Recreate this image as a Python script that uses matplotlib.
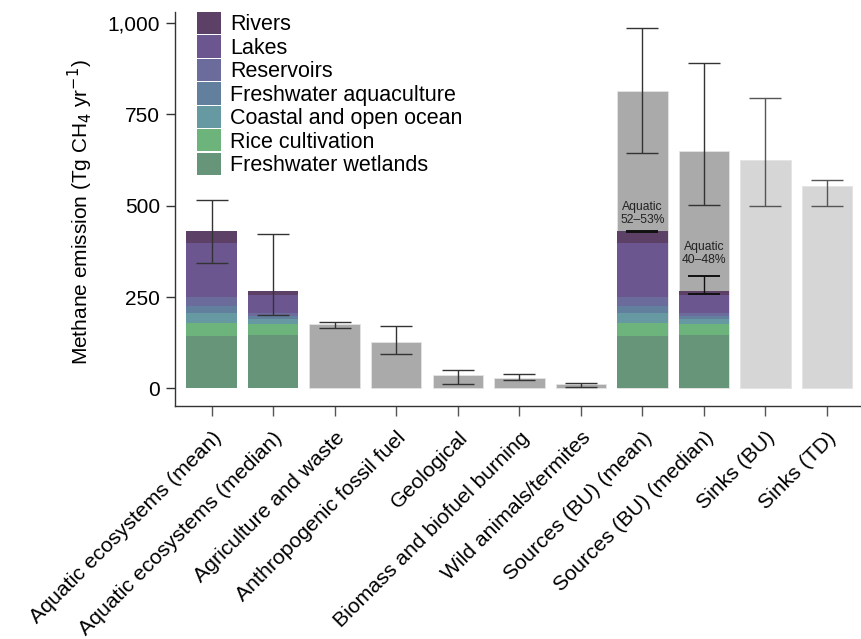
import matplotlib
matplotlib.use("Agg")
import matplotlib.pyplot as plt
import numpy as np
from matplotlib.patches import Patch

plt.rcParams['font.family'] = ['Liberation Sans', 'DejaVu Sans']

categories = ['Aquatic ecosystems (mean)', 'Aquatic ecosystems (median)',
              'Agriculture and waste', 'Anthropogenic fossil fuel', 'Geological',
              'Biomass and biofuel burning', 'Wild animals/termites',
              'Sources (BU) (mean)', 'Sources (BU) (median)', 'Sinks (BU)', 'Sinks (TD)']

components = ['Freshwater wetlands', 'Rice cultivation', 'Coastal and open ocean',
              'Freshwater aquaculture', 'Reservoirs', 'Lakes', 'Rivers']
comp_colors = ['#66957a', '#6cb37c', '#6699a2', '#627f9e', '#6c6c9c', '#6b5690', '#5d4066']

aquatic_mean = [144, 34, 29, 18, 25, 148, 33]
aquatic_median = [147, 29, 14, 8, 8, 51, 11]

# totals for gray bars (index into categories)
gray_totals = [None, None, 176, 127, 37, 29, 12, 813, 649, 624, 555]
err_low = [342, 200, 166, 94, 11, 23, 3, 645, 502, 500, 500]
err_high = [516, 423, 183, 170, 51, 40, 16, 986, 890, 796, 571]

aquatic_share_low = [429, 258]
aquatic_share_high = [432, 308]
aquatic_share_text = ['Aquatic\n52–53%', 'Aquatic\n40–48%']

yticks = [0, 250, 500, 750, 1000]
ytick_labels = ['0', '250', '500', '750', '1,000']

fig = plt.figure(figsize=(8.62, 6.39), dpi=100)
ax = fig.add_axes([174.7 / 862, 1 - 406 / 639, 1 - 174.7 / 862, (406 - 12) / 639])

x = np.arange(len(categories))
width = 0.82
gray = '#aaaaaa'
light = '#d6d6d6'

# gray bars
for i, v in enumerate(gray_totals):
    if v is None:
        continue
    c = light if i >= 9 else gray
    ax.bar(x[i], v, width=width, color=c, edgecolor='#e4e4e4', linewidth=0.6, zorder=1)

# stacked aquatic bars
def stack(xpos, vals):
    bottom = 0
    for v, c in zip(vals, comp_colors):
        ax.bar(xpos, v, width=width, bottom=bottom, color=c, edgecolor='none', zorder=2)
        bottom += v

for xpos in (x[0], x[7]):
    stack(xpos, aquatic_mean)
for xpos in (x[1], x[8]):
    stack(xpos, aquatic_median)

# error bars
err_kw = dict(fmt='none', elinewidth=1.0, capsize=11.5, capthick=1.0, zorder=4)
for i in range(len(categories)):
    ec = '#555555' if i >= 9 else '#333333'
    mid = (err_low[i] + err_high[i]) / 2
    ax.errorbar(x[i], mid, yerr=[[mid - err_low[i]], [err_high[i] - mid]],
                ecolor=ec, **err_kw)

for j, i in enumerate((7, 8)):
    mid = (aquatic_share_low[j] + aquatic_share_high[j]) / 2
    ax.errorbar(x[i], mid, yerr=[[mid - aquatic_share_low[j]], [aquatic_share_high[j] - mid]],
                fmt='none', ecolor='#111111', elinewidth=1.0, capsize=11.5, capthick=1.4, zorder=4)

ax.text(x[7], 478, aquatic_share_text[0], ha='center', va='center', fontsize=8.7,
        color='#222222', linespacing=1.1, zorder=5)
ax.text(x[8], 370, aquatic_share_text[1], ha='center', va='center', fontsize=8.7,
        color='#222222', linespacing=1.1, zorder=5)

ax.set_xlim(-0.6, 10.57)
ax.set_ylim(-48, 1030)
ax.set_yticks(yticks)
ax.set_yticklabels(ytick_labels, fontsize=15)
ax.set_xticks(x)
ax.set_xticklabels(categories, fontsize=15.3, rotation=45, ha='right', rotation_mode='anchor')
for spine in ('top', 'right'):
    ax.spines[spine].set_visible(False)
for spine in ('left', 'bottom'):
    ax.spines[spine].set_color('#333333')
    ax.spines[spine].set_linewidth(1.0)
ax.tick_params(axis='y', length=6.5, width=1.0, color='#333333', pad=4)
ax.tick_params(axis='x', length=7, width=1.0, color='#555555', pad=9)

fig.text(80 / 862, 1 - 212 / 639, 'Methane emission (Tg CH$_4$ yr$^{-1}$)', rotation=90,
         ha='center', va='center', fontsize=15)

handles = [Patch(facecolor=c, edgecolor='none') for c in comp_colors[::-1]]
leg = fig.legend(handles, components[::-1], loc='upper left',
                 bbox_to_anchor=(197 / 862, 1 - 12 / 639), bbox_transform=fig.transFigure,
                 frameon=False, fontsize=15.5, labelspacing=0.0, handleheight=1.22,
                 handlelength=1.11, handletextpad=0.42, borderpad=0, borderaxespad=0)

fig.savefig('out.png', dpi=100)
